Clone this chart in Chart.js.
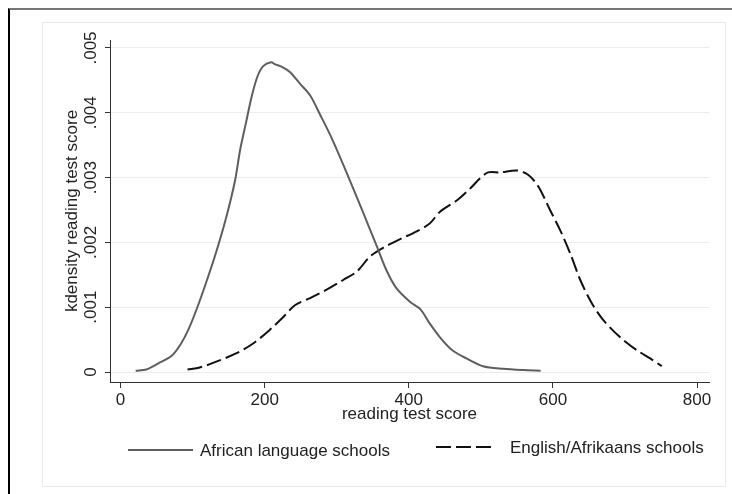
<!DOCTYPE html>
<html>
<head>
<meta charset="utf-8">
<script src="https://cdn.jsdelivr.net/npm/chart.js@4.4.1/dist/chart.umd.min.js"></script>
<style>
  html, body { margin: 0; padding: 0; background: #fff; }
  #wrap { position: relative; width: 732px; height: 494px; overflow: hidden; }
  .frame { position: absolute; left: 8px; top: 8px; right: 0; bottom: 0; border-top: 2px solid #777; border-left: 2px solid #000; }
  .inner { position: absolute; left: 42px; top: 22px; width: 682px; height: 463px; border: 1px solid #e4edf0; }
  canvas { position: absolute; left: 0; top: 0; }
</style>
</head>
<body>
<div id="wrap">
  <div class="frame"></div>
  <div class="inner"></div>
  <canvas id="kdens" width="732" height="494"></canvas>
</div>
<script>
// values
const africanX = [21, 36, 52, 71, 83, 94, 106, 120, 133, 147, 159, 166, 174, 182, 190, 198, 209, 214, 224, 235,
  249, 263, 277, 293, 314, 337, 356, 369, 383, 402, 416, 429, 443, 460, 480, 503, 531, 559, 583];
const africanY = [0.00002, 0.00004, 0.00013, 0.00025, 0.00042, 0.00065, 0.00098, 0.00142, 0.00186, 0.0024,
  0.00296, 0.00343, 0.00384, 0.00425, 0.00456, 0.00472, 0.00478, 0.00475, 0.00471, 0.00463,
  0.00445, 0.00427, 0.00397, 0.00361, 0.00307, 0.00245, 0.00193, 0.00157, 0.00129, 0.00108,
  0.00097, 0.00075, 0.00054, 0.00034, 0.00021, 0.00009, 0.00005, 0.00003, 0.00002];

const englishX = [93, 110, 133, 161, 184, 207, 226, 242, 263, 286, 309, 328, 346, 365, 388, 411, 429, 443,
  467, 485, 499, 510, 527, 550, 566, 580, 596, 610, 624, 638, 654, 670, 693, 716, 735, 751];
const englishY = [0.00004, 0.00007, 0.00016, 0.00029, 0.00044, 0.00065, 0.00085, 0.00103, 0.00114, 0.00127,
  0.00142, 0.00155, 0.00178, 0.00192, 0.00205, 0.00217, 0.00229, 0.00247, 0.00265, 0.00283,
  0.00299, 0.00308, 0.00308, 0.00311, 0.00304, 0.00286, 0.0025, 0.00219, 0.00183, 0.00142,
  0.00106, 0.0008, 0.00054, 0.00034, 0.00021, 0.00009];

const seriesNames = ['African language schools', 'English/Afrikaans schools'];
const xTicks = [0, 200, 400, 600, 800];
const yTicks = [0, 0.001, 0.002, 0.003, 0.004, 0.005];
const yTickLabels = ['0', '.001', '.002', '.003', '.004', '.005'];

const toPoints = (xs, ys) => xs.map((x, i) => ({ x, y: ys[i] }));

Chart.defaults.font.family = '"Liberation Sans", Arial, sans-serif';
Chart.defaults.font.size = 17;
Chart.defaults.color = '#222';

// stata style legend under the axis title
const stataLegend = {
  id: 'stataLegend',
  afterDraw(chart) {
    const ctx = chart.ctx;
    const spots = [
      { x0: 128, x1: 193, tx: 200, y: 450 },
      { x0: 436, x1: 491, tx: 510, y: 447 },
    ];
    chart.data.datasets.forEach((ds, i) => {
      const s = spots[i];
      ctx.save();
      ctx.strokeStyle = ds.borderColor;
      ctx.lineWidth = ds.borderWidth;
      ctx.setLineDash(ds.borderDash || []);
      ctx.beginPath();
      ctx.moveTo(s.x0, s.y);
      ctx.lineTo(s.x1, s.y);
      ctx.stroke();
      ctx.setLineDash([]);
      ctx.fillStyle = '#222';
      ctx.font = '17px "Liberation Sans", Arial, sans-serif';
      ctx.textBaseline = 'middle';
      ctx.fillText(ds.label, s.tx, s.y + 1);
      ctx.restore();
    });
  },
};

new Chart(document.getElementById('kdens'), {
  type: 'line',
  data: {
    datasets: [
      {
        label: seriesNames[0],
        data: toPoints(africanX, africanY),
        borderColor: '#5e5e5e',
        borderWidth: 2,
        pointRadius: 0,
        tension: 0.3,
        fill: false,
      },
      {
        label: seriesNames[1],
        data: toPoints(englishX, englishY),
        borderColor: '#111',
        borderWidth: 2,
        borderDash: [15, 5],
        pointRadius: 0,
        tension: 0.3,
        fill: false,
      },
    ],
  },
  options: {
    responsive: false,
    animation: false,
    devicePixelRatio: 1,
    layout: { padding: { left: 0, top: 40, right: 23, bottom: 69 } },
    plugins: {
      legend: { display: false },
      tooltip: { enabled: false },
    },
    scales: {
      x: {
        type: 'linear',
        min: -14.6,
        max: 816.6,
        afterBuildTicks: (scale) => { scale.ticks = xTicks.map((v) => ({ value: v })); },
        afterFit: (scale) => { scale.height = 43; },
        ticks: { padding: 2, maxRotation: 0, color: '#222' },
        grid: { drawOnChartArea: false, drawTicks: true, tickLength: 6, tickColor: '#333', tickWidth: 1 },
        border: { color: '#333', width: 1 },
        title: { display: true, text: 'reading test score', padding: { top: 0, bottom: 0 }, color: '#222' },
      },
      y: {
        type: 'linear',
        min: -0.000154,
        max: 0.005123,
        afterBuildTicks: (scale) => { scale.ticks = yTicks.map((v) => ({ value: v })); },
        afterFit: (scale) => { scale.width = 110; },
        ticks: {
          minRotation: 90,
          maxRotation: 90,
          crossAlign: 'center',
          padding: -3,
          color: '#222',
          callback: (v, i) => yTickLabels[i],
        },
        grid: { color: '#e6eef1', lineWidth: 1, drawTicks: true, tickLength: 5, tickColor: '#333' },
        border: { color: '#333', width: 1 },
        title: { display: true, text: 'kdensity reading test score', padding: { top: 62, bottom: 0 }, color: '#222' },
      },
    },
  },
  plugins: [stataLegend],
});
</script>
</body>
</html>
